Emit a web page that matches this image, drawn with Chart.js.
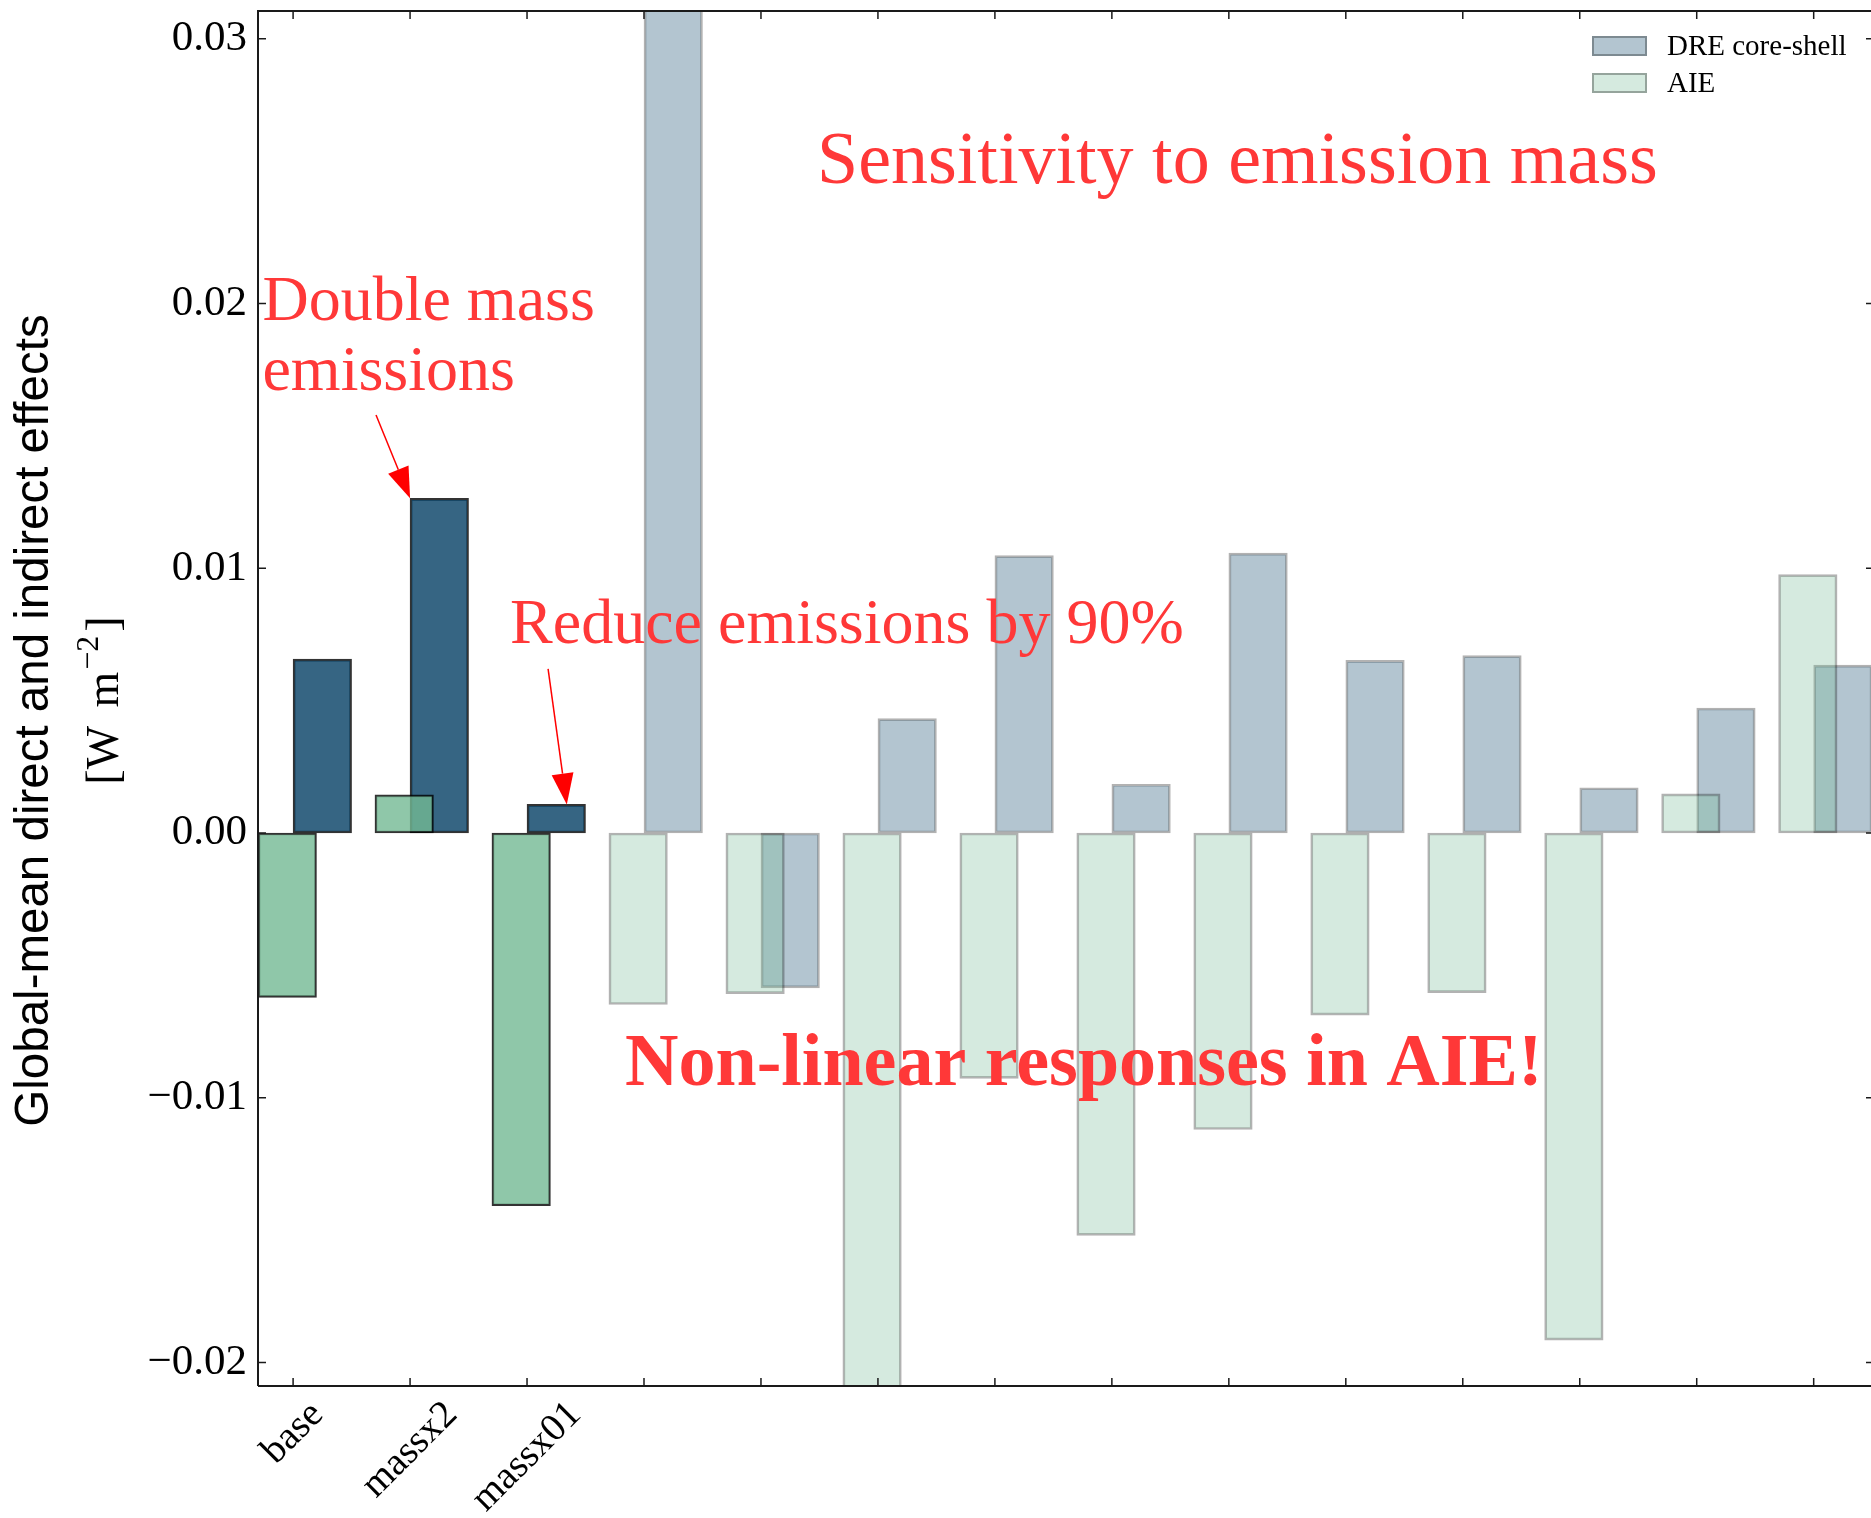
<!DOCTYPE html>
<html>
<head>
<meta charset="utf-8">
<script src="https://cdn.jsdelivr.net/npm/chart.js@4.4.1/dist/chart.umd.min.js"></script>
<style>
  html, body { margin: 0; padding: 0; background: #fff; }
</style>
</head>
<body>
<canvas id="chart" width="1871" height="1518"></canvas>
<script>
// runs on the x axis; only the first three are named
const categories = ['base', 'massx2', 'massx01', '', '', '', '', '', '', '', '', '', '', ''];
// global-mean effects, W m-2 (runs 3 and 5 go past the axis limits)
const dreValues = [0.00657, 0.01264, 0.00108, 0.0345, -0.00585, 0.00432, 0.01048,
                   0.00184, 0.01057, 0.00652, 0.0067, 0.00171, 0.00472, 0.00634];
const aieValues = [-0.00621, 0.00144, -0.01408, -0.00648, -0.00607, -0.0232, -0.00927,
                   -0.0152, -0.0112, -0.00688, -0.00603, -0.01916, 0.00148, 0.00976];
const seriesNames = ['DRE core-shell', 'AIE'];
const yTickValues = [-0.02, -0.01, 0, 0.01, 0.02, 0.03];
const yTickLabels = ['\u22120.02', '\u22120.01', '0.00', '0.01', '0.02', '0.03'];

const SERIF = '"Liberation Serif", "Times New Roman", serif';
const SANS = '"Liberation Sans", Arial, sans-serif';
const RED = '#ff3838';

// the first three runs are drawn strong, the rest faded
const strongRuns = 3;
const DRE_RGB = '4, 62, 100';
const AIE_RGB = '115, 185, 148';
const alphaFor = i => (i < strongRuns ? 0.8 : 0.3);
const fillFor = (rgb, i) => `rgba(${rgb}, ${alphaFor(i)})`;
const edgeFor = i => `rgba(0, 0, 0, ${alphaFor(i)})`;

// annotations, in data coordinates (left edge, baseline)
const notes = [
  { text: 'Sensitivity to emission mass', x: 4.479, y: 0.02456, size: 74, bold: false },
  { text: 'Double mass', x: -0.262, y: 0.01938, size: 64, bold: false },
  { text: 'emissions', x: -0.262, y: 0.01674, size: 64, bold: false },
  { text: 'Reduce emissions by 90%', x: 1.855, y: 0.00718, size: 64, bold: false },
  { text: 'Non-linear responses in AIE!', x: 2.838, y: -0.00952, size: 74, bold: true }
];
const arrows = [
  { from: [0.709, 0.01579], to: [1.0, dreValues[1]] },
  { from: [2.18, 0.0062], to: [2.34, dreValues[2]] }
];

// matplotlib-style frame with inward ticks on every side
const framePlugin = {
  id: 'frame',
  afterDatasetsDraw(chart) {
    const { ctx, chartArea: a, scales: { x, y } } = chart;
    const rightSpine = a.right + 3;
    ctx.save();
    ctx.strokeStyle = '#1a1a1a';
    ctx.lineWidth = 2;
    ctx.beginPath();
    ctx.moveTo(a.left, a.bottom);
    ctx.lineTo(a.left, a.top);
    ctx.lineTo(a.right, a.top);
    ctx.moveTo(a.left, a.bottom);
    ctx.lineTo(a.right, a.bottom);
    ctx.stroke();

    ctx.lineWidth = 1.5;
    ctx.beginPath();
    categories.forEach((_, i) => {
      const px = x.getPixelForValue(i);
      ctx.moveTo(px, a.bottom); ctx.lineTo(px, a.bottom - 8);
      ctx.moveTo(px, a.top); ctx.lineTo(px, a.top + 8);
    });
    yTickValues.forEach(v => {
      const py = y.getPixelForValue(v);
      ctx.moveTo(a.left, py); ctx.lineTo(a.left + 8, py);
      ctx.moveTo(rightSpine, py); ctx.lineTo(rightSpine - 8, py);
    });
    ctx.stroke();
    ctx.restore();
  }
};

const decorPlugin = {
  id: 'decor',
  afterDraw(chart) {
    const { ctx, chartArea: a, scales: { x, y } } = chart;
    ctx.save();

    // rotated category labels, centred on their ticks
    const lf = 39;
    ctx.font = `${lf}px ${SERIF}`;
    ctx.fillStyle = '#000';
    ctx.textAlign = 'center';
    ctx.textBaseline = 'middle';
    categories.forEach((lab, i) => {
      if (!lab) return;
      const w = ctx.measureText(lab).width;
      const half = (w + lf) / (2 * Math.SQRT2);
      ctx.save();
      ctx.translate(x.getPixelForValue(i), a.bottom + 9 + half);
      ctx.rotate(-Math.PI / 4);
      ctx.fillText(lab, 0, 0);
      ctx.restore();
    });

    // y axis title, two lines
    const midY = (a.top + a.bottom) / 2;
    ctx.save();
    ctx.translate(48, midY + 22);
    ctx.rotate(-Math.PI / 2);
    ctx.font = `47.5px ${SANS}`;
    ctx.textAlign = 'center';
    ctx.textBaseline = 'alphabetic';
    ctx.fillText('Global-mean direct and indirect effects', 0, 0);
    ctx.restore();

    ctx.save();
    ctx.translate(118, midY + 3);
    ctx.rotate(-Math.PI / 2);
    ctx.textBaseline = 'alphabetic';
    ctx.textAlign = 'left';
    const big = `46px ${SERIF}`, small = `32px ${SERIF}`;
    ctx.font = big;
    const p1 = '[W\u2009\u2009m', p3 = ']';
    const w1 = ctx.measureText(p1).width, w3 = ctx.measureText(p3).width;
    ctx.font = small;
    const p2 = '\u22122';
    const w2 = ctx.measureText(p2).width + 4;
    let cx = -(w1 + w2 + w3) / 2;
    ctx.font = big;
    ctx.fillText(p1, cx, 0);
    cx += w1 + 2;
    ctx.font = small;
    ctx.fillText(p2, cx, -20);
    cx += w2;
    ctx.font = big;
    ctx.fillText(p3, cx, 0);
    ctx.restore();

    // legend
    ctx.font = `29px ${SERIF}`;
    ctx.textAlign = 'left';
    ctx.textBaseline = 'middle';
    chart.data.datasets.forEach((ds, k) => {
      const top = 36 + k * 37;
      const n = ds.backgroundColor.length - 1;
      ctx.fillStyle = ds.backgroundColor[n];
      ctx.fillRect(1592, top, 55, 20);
      ctx.strokeStyle = ds.borderColor[n];
      ctx.lineWidth = 2;
      ctx.strokeRect(1593, top + 1, 53, 18);
      ctx.fillStyle = '#000';
      ctx.fillText(ds.label, 1667, top + 11);
    });

    // red annotations
    ctx.fillStyle = RED;
    ctx.textBaseline = 'alphabetic';
    notes.forEach(n => {
      ctx.font = `${n.bold ? 'bold ' : ''}${n.size}px ${SERIF}`;
      ctx.fillText(n.text, x.getPixelForValue(n.x), y.getPixelForValue(n.y));
    });

    ctx.strokeStyle = '#ff0000';
    ctx.fillStyle = '#ff0000';
    ctx.lineWidth = 1.5;
    arrows.forEach(ar => {
      const x0 = x.getPixelForValue(ar.from[0]), y0 = y.getPixelForValue(ar.from[1]);
      const x1 = x.getPixelForValue(ar.to[0]), y1 = y.getPixelForValue(ar.to[1]);
      const ang = Math.atan2(y1 - y0, x1 - x0);
      const hl = 31, hw = 11;
      const bx = x1 - hl * Math.cos(ang), by = y1 - hl * Math.sin(ang);
      ctx.beginPath();
      ctx.moveTo(x0, y0);
      ctx.lineTo(bx, by);
      ctx.stroke();
      ctx.beginPath();
      ctx.moveTo(x1, y1);
      ctx.lineTo(bx + hw * Math.sin(ang), by - hw * Math.cos(ang));
      ctx.lineTo(bx - hw * Math.sin(ang), by + hw * Math.cos(ang));
      ctx.closePath();
      ctx.fill();
    });

    ctx.restore();
  }
};

const barStyle = {
  borderWidth: 2,
  borderSkipped: false,
  barThickness: 58.5,
  grouped: false,
  clip: 0
};

new Chart(document.getElementById('chart').getContext('2d'), {
  type: 'bar',
  data: {
    datasets: [
      {
        label: seriesNames[0],
        data: dreValues.map((v, i) => ({ x: i + 0.25, y: v })),
        backgroundColor: dreValues.map((_, i) => fillFor(DRE_RGB, i)),
        borderColor: dreValues.map((_, i) => edgeFor(i)),
        order: 1,
        ...barStyle
      },
      {
        label: seriesNames[1],
        data: aieValues.map((v, i) => ({ x: i - 0.05, y: v })),
        backgroundColor: aieValues.map((_, i) => fillFor(AIE_RGB, i)),
        borderColor: aieValues.map((_, i) => edgeFor(i)),
        order: 0,
        ...barStyle
      }
    ]
  },
  options: {
    responsive: false,
    animation: false,
    devicePixelRatio: 1,
    layout: { padding: { top: 11, left: 0, right: 0, bottom: 0 } },
    plugins: {
      legend: { display: false },
      tooltip: { enabled: false }
    },
    scales: {
      x: {
        type: 'linear',
        offset: false,
        min: -0.3,
        max: 13.49,
        grid: { display: false, offset: false },
        border: { display: false },
        ticks: { display: false },
        afterFit: s => { s.height = 132; s.paddingLeft = 0; s.paddingRight = 0; }
      },
      y: {
        min: -0.02089,
        max: 0.03105,
        grid: { display: false },
        border: { display: false },
        afterBuildTicks: s => { s.ticks = yTickValues.map(v => ({ value: v })); },
        ticks: {
          padding: 3,
          color: '#000',
          font: { family: SERIF, size: 43 },
          callback: v => {
            const k = yTickValues.findIndex(t => Math.abs(t - v) < 1e-9);
            return k >= 0 ? yTickLabels[k] : '';
          }
        },
        afterFit: s => { s.width = 258; s.paddingTop = 0; s.paddingBottom = 0; }
      }
    }
  },
  plugins: [framePlugin, decorPlugin]
});
</script>
</body>
</html>
